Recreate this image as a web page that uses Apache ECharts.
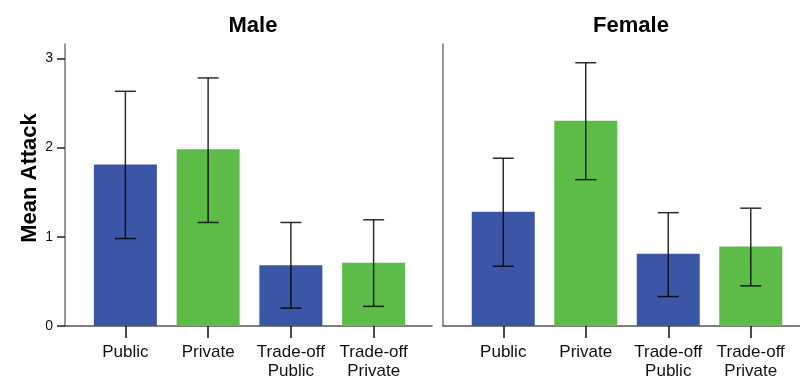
<!DOCTYPE html>
<html>
<head>
<meta charset="utf-8">
<script src="https://cdn.jsdelivr.net/npm/echarts@6/dist/echarts.min.js"></script>
<style>
  html, body { margin: 0; padding: 0; background: #fff; }
  #chart { width: 800px; height: 383px; }
</style>
</head>
<body>
<div id="chart"></div>
<script>
// Conditions on the x axis of each panel
const categories = ['Public', 'Private', 'Trade-off\nPublic', 'Trade-off\nPrivate'];
const panelTitles = ['Male', 'Female'];

// Mean attack per condition
const maleMeans = [1.81, 1.98, 0.68, 0.71];
const femaleMeans = [1.28, 2.30, 0.81, 0.89];

// Error bar bounds (low, high)
const maleLow = [0.98, 1.16, 0.20, 0.22];
const maleHigh = [2.63, 2.78, 1.16, 1.19];
const femaleLow = [0.67, 1.64, 0.33, 0.45];
const femaleHigh = [1.88, 2.95, 1.27, 1.32];

// Y axis tick values
const yTicks = [0, 1, 2, 3];

const BLUE = '#3b55a7';
const GREEN = '#5dbb47';
const barColors = [BLUE, GREEN, BLUE, GREEN];
const FONT = '"Liberation Sans", Arial, sans-serif';
const Y_MAX = 3.16;

function barData(values) {
  return values.map((v, i) => ({ value: v, itemStyle: { color: barColors[i] } }));
}

function errData(low, high) {
  return low.map((l, i) => [i, l, high[i]]);
}

// Vertical whisker with caps at both ends
function renderError(params, api) {
  const x = api.value(0);
  const lo = api.coord([x, api.value(1)]);
  const hi = api.coord([x, api.value(2)]);
  const half = 10.5;
  const style = { stroke: 'rgba(0,0,0,0.82)', lineWidth: 1.5 };
  return {
    type: 'group',
    children: [
      { type: 'line', shape: { x1: lo[0], y1: lo[1], x2: hi[0], y2: hi[1] }, style },
      { type: 'line', shape: { x1: hi[0] - half, y1: hi[1], x2: hi[0] + half, y2: hi[1] }, style },
      { type: 'line', shape: { x1: lo[0] - half, y1: lo[1], x2: lo[0] + half, y2: lo[1] }, style }
    ]
  };
}

const frameY = { top: 44, height: 282 };

const option = {
  backgroundColor: '#fff',
  animation: false,
  title: [
    { text: panelTitles[0], left: 248, top: 10, textAlign: 'center',
      textStyle: { fontFamily: FONT, fontSize: 22, fontWeight: 'bold', color: '#000' } },
    { text: panelTitles[1], left: 626, top: 10, textAlign: 'center',
      textStyle: { fontFamily: FONT, fontSize: 22, fontWeight: 'bold', color: '#000' } }
  ],
  grid: [
    // panel frames (axis lines)
    { left: 65, width: 367, ...frameY },
    { left: 443, width: 357, ...frameY },
    // plotting areas for the bars
    { left: 84, width: 331, ...frameY },
    { left: 462, width: 330, ...frameY }
  ],
  xAxis: [
    { gridIndex: 0, type: 'category', data: [''], axisLine: { lineStyle: { color: '#555', width: 1.5 } },
      axisTick: { show: false }, axisLabel: { show: false } },
    { gridIndex: 1, type: 'category', data: [''], axisLine: { lineStyle: { color: '#555', width: 1.5 } },
      axisTick: { show: false }, axisLabel: { show: false } },
    { gridIndex: 2, type: 'category', data: categories, axisLine: { show: false },
      axisTick: { show: true, alignWithLabel: true, length: 12, lineStyle: { color: '#111', width: 1.5 } },
      axisLabel: { fontFamily: FONT, fontSize: 17, color: '#111', margin: 17, lineHeight: 19, interval: 0 } },
    { gridIndex: 3, type: 'category', data: categories, axisLine: { show: false },
      axisTick: { show: true, alignWithLabel: true, length: 12, lineStyle: { color: '#111', width: 1.5 } },
      axisLabel: { fontFamily: FONT, fontSize: 17, color: '#111', margin: 17, lineHeight: 19, interval: 0 } }
  ],
  yAxis: [
    { gridIndex: 0, type: 'value', min: 0, max: Y_MAX, splitLine: { show: false },
      name: 'Mean Attack', nameLocation: 'middle', nameGap: 24,
      nameTextStyle: { fontFamily: FONT, fontSize: 22, fontWeight: 'bold', color: '#000', padding: [0, 0, 0, 14] },
      axisLine: { show: true, lineStyle: { color: '#777', width: 1.5 } },
      axisTick: { show: true, length: 8, customValues: yTicks, lineStyle: { color: '#222', width: 1.5 } },
      axisLabel: { fontFamily: FONT, fontSize: 14, color: '#111', margin: 12, customValues: yTicks } },
    { gridIndex: 1, type: 'value', min: 0, max: Y_MAX, splitLine: { show: false },
      axisLine: { show: true, lineStyle: { color: '#777', width: 1.5 } },
      axisTick: { show: false }, axisLabel: { show: false } },
    { gridIndex: 2, type: 'value', min: 0, max: Y_MAX, show: false },
    { gridIndex: 3, type: 'value', min: 0, max: Y_MAX, show: false }
  ],
  series: [
    { type: 'bar', xAxisIndex: 2, yAxisIndex: 2, barWidth: 63, data: barData(maleMeans) },
    { type: 'bar', xAxisIndex: 3, yAxisIndex: 3, barWidth: 63, data: barData(femaleMeans) },
    { type: 'custom', xAxisIndex: 2, yAxisIndex: 2, renderItem: renderError, data: errData(maleLow, maleHigh), z: 5 },
    { type: 'custom', xAxisIndex: 3, yAxisIndex: 3, renderItem: renderError, data: errData(femaleLow, femaleHigh), z: 5 }
  ]
};

const chart = echarts.init(document.getElementById('chart'), null, { renderer: 'canvas' });
chart.setOption(option);
</script>
</body>
</html>
